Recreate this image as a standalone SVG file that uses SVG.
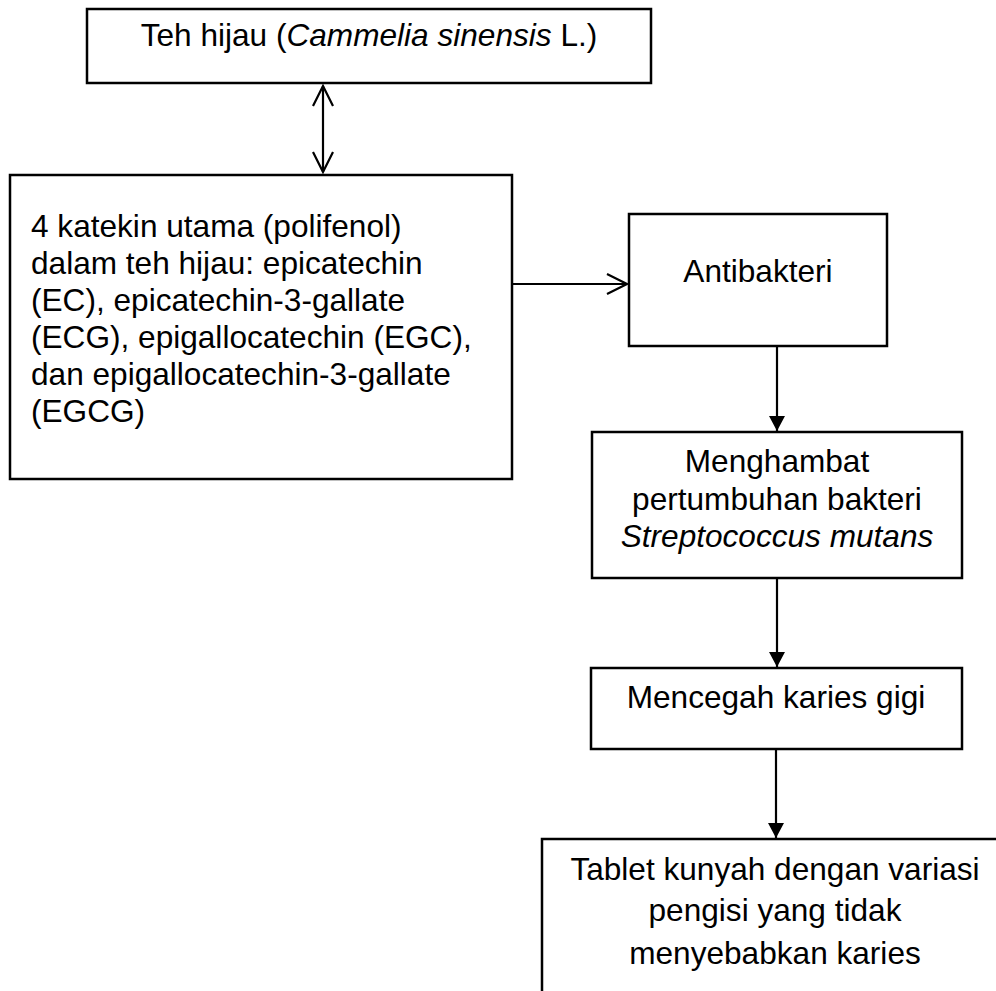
<svg xmlns="http://www.w3.org/2000/svg" width="996" height="991" viewBox="0 0 996 991">
<defs>
<style>
.box{fill:#fff;stroke:#000;stroke-width:2.5}
.t{font-family:"Liberation Sans",Arial,sans-serif;font-size:31.6px;fill:#000}
.c{text-anchor:middle}
.i{font-style:italic}
.ln{stroke:#000;stroke-width:2.2;fill:none}
</style>
<marker id="open" markerUnits="userSpaceOnUse" markerWidth="24" markerHeight="24" refX="20" refY="10" orient="auto-start-reverse" viewBox="-2 -2 24 24">
<path d="M0,0 L20,10 L0,20" fill="none" stroke="#000" stroke-width="2.2"/>
</marker>
<marker id="fill" markerUnits="userSpaceOnUse" markerWidth="16" markerHeight="16" refX="15" refY="8" orient="auto" viewBox="0 0 16 16">
<path d="M0,0 L15,8 L0,16 z" fill="#000"/>
</marker>
</defs>
<rect width="996" height="991" fill="#fff"/>
<g id="connectors">
<line class="ln" x1="323" y1="86" x2="323" y2="172" marker-start="url(#open)" marker-end="url(#open)"/>
<line class="ln" x1="512" y1="284" x2="627" y2="284" marker-end="url(#open)"/>
<line class="ln" x1="777" y1="346" x2="777" y2="431" marker-end="url(#fill)"/>
<line class="ln" x1="777" y1="578" x2="777" y2="667" marker-end="url(#fill)"/>
<line class="ln" x1="776" y1="749" x2="776" y2="838" marker-end="url(#fill)"/>
</g>
<g id="teh-hijau">
<rect class="box" x="87" y="9" width="564" height="74"/>
<text class="t c" x="369" y="46">Teh hijau (<tspan class="i">Cammelia sinensis</tspan> L.)</text>
</g>
<g id="katekin">
<rect class="box" x="10" y="175" width="502" height="304"/>
<text class="t" x="31" y="237">4 katekin utama (polifenol)</text>
<text class="t" x="31" y="274">dalam teh hijau: epicatechin</text>
<text class="t" x="31" y="311">(EC), epicatechin-3-gallate</text>
<text class="t" x="31" y="348">(ECG), epigallocatechin (EGC),</text>
<text class="t" x="31" y="385">dan epigallocatechin-3-gallate</text>
<text class="t" x="31" y="422">(EGCG)</text>
</g>
<g id="antibakteri">
<rect class="box" x="629" y="214" width="258" height="132"/>
<text class="t c" x="758" y="282">Antibakteri</text>
</g>
<g id="menghambat">
<rect class="box" x="592" y="432" width="370" height="146"/>
<text class="t c" x="777" y="472">Menghambat</text>
<text class="t c" x="777" y="510">pertumbuhan bakteri</text>
<text class="t c i" x="777" y="547">Streptococcus mutans</text>
</g>
<g id="mencegah">
<rect class="box" x="591" y="668" width="371" height="81"/>
<text class="t c" x="776" y="708">Mencegah karies gigi</text>
</g>
<g id="tablet">
<rect class="box" x="542" y="839" width="468" height="170"/>
<text class="t c" x="775" y="880">Tablet kunyah dengan variasi</text>
<text class="t c" x="775" y="921">pengisi yang tidak</text>
<text class="t c" x="775" y="964">menyebabkan karies</text>
</g>
</svg>
